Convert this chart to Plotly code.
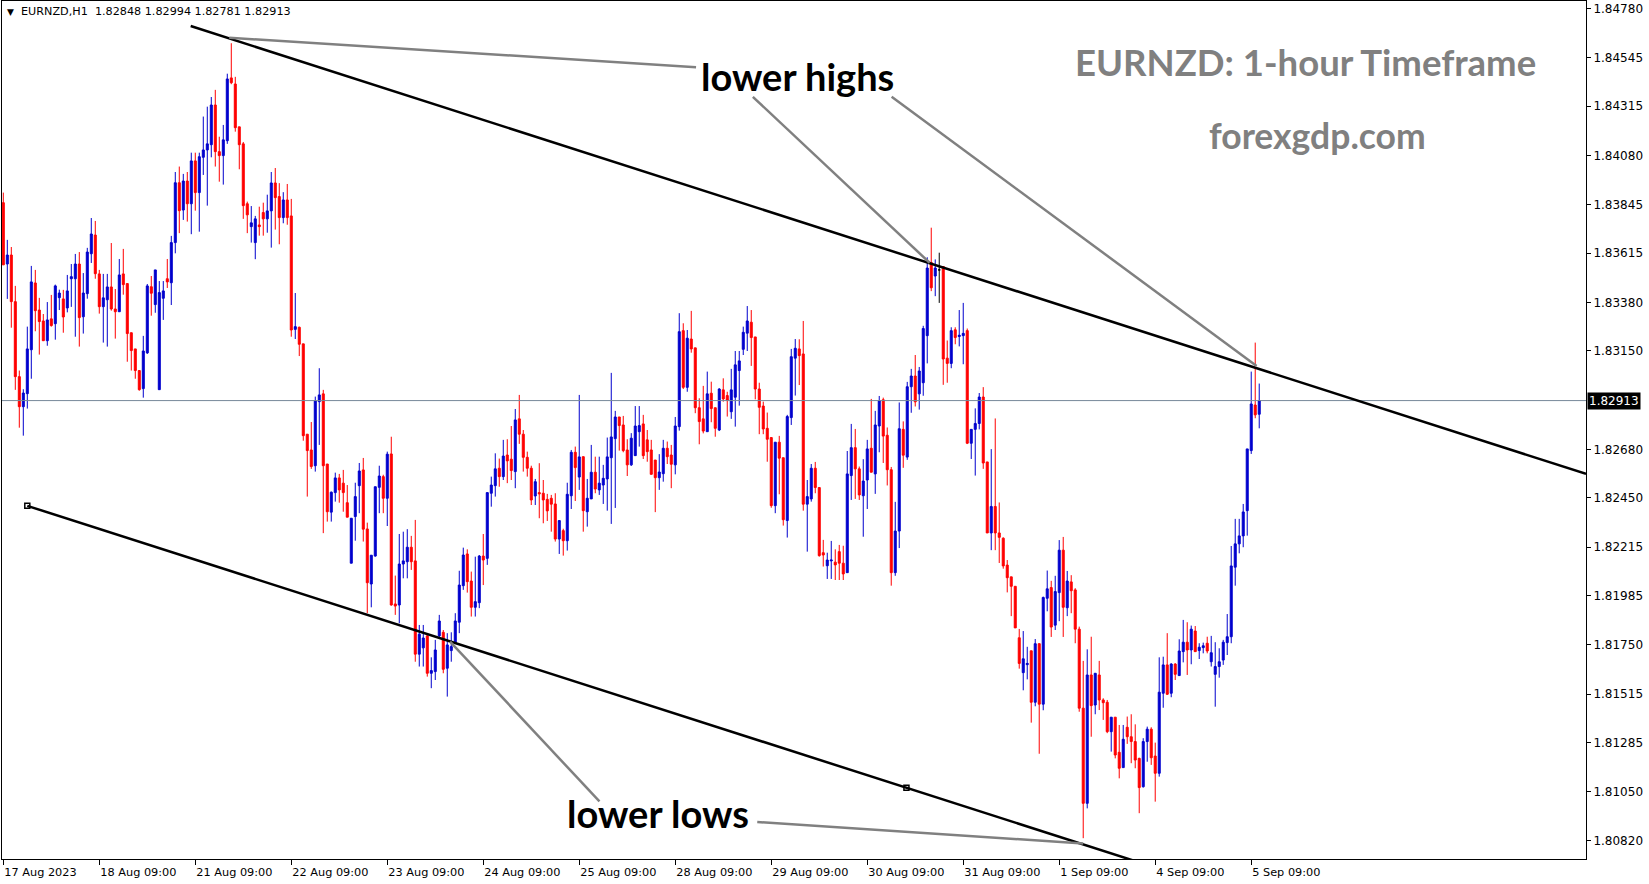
import plotly.graph_objects as go

symbol = "EURNZD,H1"
BULL = "#0000CD"
BEAR = "#FF0000"

# OHLC of each hourly bar (bar index 0 = 17 Aug 2023 09:00)
opens = [1.83855,1.83563,1.83606,1.83384,1.83027,1.82884,1.82946,1.83155,1.83473,1.83344,
1.83292,1.83198,1.83302,1.83279,1.83403,1.83397,1.83354,1.83493,1.83493,1.83563,
1.83312,1.83422,1.83612,1.83701,1.83516,1.83360,1.83393,1.83454,1.83349,1.83336,
1.83516,1.83470,1.83236,1.83159,1.83056,1.82970,1.83140,1.83455,1.83370,1.82965,
1.83400,1.83493,1.83474,1.83665,1.83950,1.83820,1.83958,1.83850,1.84054,1.83903,
1.84071,1.84106,1.84131,1.84320,1.84098,1.84079,1.84150,1.84449,1.84420,1.84216,
1.84135,1.83850,1.83741,1.83665,1.83749,1.83808,1.83778,1.83816,1.83949,1.83884,
1.83784,1.83868,1.83792,1.83252,1.83262,1.83183,1.82753,1.82678,1.82603,1.82908,
1.82945,1.82611,1.82382,1.82475,1.82545,1.82520,1.82427,1.82139,1.82361,1.82508,
1.82583,1.82302,1.82040,1.82173,1.82500,1.82551,1.82448,1.82659,1.81945,1.81940,
1.82135,1.82146,1.82215,1.82150,1.81706,1.81736,1.81793,1.81615,1.81623,1.81793,
1.81810,1.81639,1.81723,1.81758,1.81858,1.82032,1.82183,1.82054,1.81929,1.81951,
1.82173,1.82162,1.82472,1.82508,1.82591,1.82551,1.82654,1.82634,1.82575,1.82826,
1.82753,1.82643,1.82591,1.82459,1.82475,1.82472,1.82443,1.82448,1.82421,1.82254,
1.82294,1.82246,1.82460,1.82667,1.82549,1.82646,1.82384,1.82445,1.82572,1.82488,
1.82511,1.82540,1.82641,1.82732,1.82835,1.82797,1.82678,1.82607,1.82651,1.82765,
1.82802,1.82726,1.82678,1.82630,1.82546,1.82565,1.82686,1.82654,1.82607,1.82789,
1.83246,1.82976,1.83206,1.83164,1.82879,1.82826,1.82765,1.82948,1.82879,1.82773,
1.82964,1.82937,1.82860,1.82929,1.83056,1.83157,1.83234,1.83286,1.83216,1.82968,
1.82887,1.82781,1.82737,1.82413,1.82715,1.82641,1.82342,1.82832,1.83115,1.83159,
1.83135,1.82420,1.82445,1.82591,1.82499,1.82189,1.82127,1.82150,1.82144,1.82194,
1.82139,1.82094,1.82556,1.82689,1.82588,1.82460,1.82535,1.82686,1.82564,1.82792,
1.82917,1.82748,1.82584,1.82094,1.82292,1.82776,1.82644,1.82979,1.83030,1.82945,
1.82998,1.83222,1.83570,1.83506,1.83535,1.83551,1.83115,1.83090,1.83250,1.83218,
1.83222,1.83246,1.82710,1.82776,1.82804,1.82930,1.82621,1.82283,1.82409,1.82283,
1.82258,1.82130,1.82074,1.82029,1.81784,1.81618,1.81656,1.81722,1.81477,1.81756,
1.81468,1.81972,1.82023,1.81844,1.81999,1.82201,1.81927,1.82050,1.82012,1.81825,
1.81449,1.80996,1.81607,1.81464,1.81607,1.81488,1.81477,1.81337,1.81406,1.81239,
1.81166,1.81358,1.81313,1.81290,1.81210,1.81075,1.81290,1.81349,1.81221,1.81139,
1.81520,1.81655,1.81520,1.81659,1.81604,1.81718,1.81763,1.81726,1.81816,1.81723,
1.81737,1.81758,1.81670,1.81610,1.81647,1.81678,1.81761,1.81789,1.82120,1.82231,
1.82269,1.82389,1.82675,1.82892,1.82848]
highs = [1.83903,1.83678,1.83644,1.83459,1.83056,1.82967,1.83265,1.83554,1.83535,1.83402,
1.83325,1.83382,1.83416,1.83465,1.83441,1.83440,1.83511,1.83563,1.83611,1.83620,
1.83520,1.83640,1.83782,1.83768,1.83535,1.83516,1.83516,1.83663,1.83444,1.83587,
1.83635,1.83470,1.83236,1.83159,1.83056,1.83221,1.83468,1.83506,1.83535,1.83482,
1.83482,1.83587,1.83697,1.84001,1.84027,1.83992,1.84001,1.84093,1.84093,1.84093,
1.84265,1.84312,1.84358,1.84392,1.84169,1.84225,1.84469,1.84614,1.84454,1.84216,
1.84144,1.83860,1.83839,1.83792,1.83836,1.83855,1.83893,1.84001,1.84020,1.83948,
1.83905,1.83944,1.83873,1.83425,1.83265,1.83183,1.82753,1.82811,1.82932,1.83067,
1.82964,1.82611,1.82480,1.82570,1.82564,1.82583,1.82511,1.82353,1.82522,1.82616,
1.82640,1.82332,1.82177,1.82503,1.82603,1.82560,1.82670,1.82741,1.82080,1.82278,
1.82289,1.82301,1.82269,1.82345,1.81845,1.81845,1.81806,1.81691,1.81774,1.81893,
1.81821,1.81806,1.81810,1.81901,1.82103,1.82213,1.82205,1.82099,1.82170,1.82178,
1.82278,1.82475,1.82551,1.82662,1.82637,1.82726,1.82729,1.82792,1.82873,1.82940,
1.82773,1.82670,1.82603,1.82540,1.82615,1.82535,1.82469,1.82464,1.82472,1.82342,
1.82303,1.82522,1.82678,1.82694,1.82940,1.82646,1.82540,1.82702,1.82646,1.82646,
1.82607,1.82737,1.83045,1.82864,1.82835,1.82840,1.82729,1.82758,1.82887,1.82887,
1.82845,1.82773,1.82726,1.82630,1.82658,1.82726,1.82718,1.82702,1.82835,1.83329,
1.83281,1.83249,1.83340,1.83164,1.82924,1.82983,1.83051,1.83003,1.82879,1.82972,
1.83019,1.82955,1.83064,1.83149,1.83149,1.83265,1.83363,1.83344,1.83216,1.82998,
1.82908,1.82856,1.82737,1.82715,1.82745,1.82641,1.82845,1.83159,1.83206,1.83205,
1.83292,1.82535,1.82611,1.82621,1.82499,1.82250,1.82189,1.82245,1.82205,1.82226,
1.82222,1.82673,1.82802,1.82778,1.82599,1.82634,1.82726,1.82921,1.82864,1.82935,
1.82927,1.82785,1.82597,1.82431,1.82904,1.82814,1.83002,1.83064,1.83130,1.83073,
1.83269,1.83595,1.83736,1.83585,1.83617,1.83551,1.83199,1.83262,1.83262,1.83344,
1.83378,1.83256,1.82776,1.82876,1.82949,1.82977,1.82621,1.82682,1.82828,1.82428,
1.82262,1.82154,1.82074,1.82029,1.81826,1.81816,1.81741,1.81722,1.81778,1.81756,
1.81980,1.82104,1.82055,1.82079,1.82249,1.82264,1.82102,1.82082,1.82020,1.81837,
1.81674,1.81729,1.81789,1.81615,1.81674,1.81496,1.81488,1.81406,1.81406,1.81369,
1.81369,1.81409,1.81420,1.81372,1.81213,1.81306,1.81361,1.81358,1.81285,1.81691,
1.81694,1.81806,1.81663,1.81663,1.81777,1.81869,1.81858,1.81842,1.81840,1.81758,
1.81761,1.81789,1.81793,1.81763,1.81734,1.81774,1.81897,1.82221,1.82350,1.82350,
1.82421,1.82683,1.83051,1.83189,1.82994]
lows = [1.83559,1.83397,1.83260,1.82964,1.82784,1.82746,1.82875,1.83017,1.83243,1.83132,
1.83198,1.83174,1.83265,1.83203,1.83344,1.83236,1.83333,1.83359,1.83217,1.83170,
1.83232,1.83398,1.83568,1.83493,1.83327,1.83189,1.83170,1.83341,1.83208,1.83335,
1.83417,1.83098,1.83056,1.83017,1.82960,1.82927,1.83135,1.83317,1.83331,1.82965,
1.83297,1.83449,1.83368,1.83614,1.83710,1.83773,1.83765,1.83705,1.83817,1.83717,
1.83987,1.83841,1.84071,1.84027,1.83955,1.83941,1.84135,1.84419,1.84193,1.84014,
1.83778,1.83710,1.83665,1.83586,1.83698,1.83698,1.83712,1.83641,1.83727,1.83657,
1.83757,1.83750,1.83217,1.83206,1.83125,1.82722,1.82456,1.82588,1.82575,1.82702,
1.82282,1.82337,1.82337,1.82432,1.82427,1.82384,1.82358,1.82139,1.82246,1.82377,
1.82242,1.81901,1.81929,1.82170,1.82377,1.82377,1.82316,1.81937,1.81893,1.81853,
1.82067,1.82067,1.82107,1.81670,1.81647,1.81647,1.81599,1.81544,1.81583,1.81782,
1.81615,1.81504,1.81670,1.81758,1.81806,1.82012,1.81999,1.81885,1.81885,1.81925,
1.82035,1.82131,1.82408,1.82456,1.82503,1.82535,1.82520,1.82535,1.82496,1.82707,
1.82575,1.82551,1.82416,1.82416,1.82353,1.82329,1.82340,1.82289,1.82242,1.82183,
1.82175,1.82199,1.82397,1.82435,1.82488,1.82289,1.82313,1.82445,1.82472,1.82464,
1.82421,1.82389,1.82326,1.82402,1.82675,1.82667,1.82554,1.82602,1.82651,1.82694,
1.82635,1.82622,1.82562,1.82382,1.82488,1.82527,1.82611,1.82496,1.82562,1.82770,
1.82968,1.82955,1.83141,1.82853,1.82705,1.82757,1.82765,1.82810,1.82741,1.82768,
1.82908,1.82837,1.82826,1.82789,1.82889,1.83130,1.83149,1.83078,1.82919,1.82753,
1.82753,1.82622,1.82403,1.82377,1.82467,1.82318,1.82261,1.82797,1.82937,1.82987,
1.82389,1.82194,1.82432,1.82472,1.82170,1.82123,1.82064,1.82064,1.82059,1.82059,
1.82059,1.82094,1.82440,1.82445,1.82440,1.82265,1.82397,1.82572,1.82469,1.82667,
1.82616,1.82509,1.82032,1.82079,1.82211,1.82593,1.82631,1.82855,1.82885,1.82870,
1.82936,1.83090,1.83434,1.83410,1.83378,1.82988,1.82998,1.83067,1.83181,1.83171,
1.83086,1.82706,1.82635,1.82556,1.82776,1.82588,1.82283,1.82201,1.82201,1.82140,
1.82113,1.82000,1.81887,1.81831,1.81637,1.81534,1.81586,1.81380,1.81458,1.81232,
1.81439,1.81910,1.81788,1.81821,1.81863,1.81788,1.81887,1.81901,1.81758,1.81432,
1.80830,1.80972,1.81313,1.81420,1.81440,1.81393,1.81330,1.81242,1.81210,1.81115,
1.81166,1.81279,1.81187,1.81163,1.80949,1.81071,1.81194,1.81179,1.81004,1.81123,
1.81451,1.81512,1.81501,1.81583,1.81604,1.81667,1.81607,1.81658,1.81718,1.81683,
1.81710,1.81710,1.81647,1.81456,1.81594,1.81655,1.81702,1.81758,1.82032,1.82186,
1.82215,1.82270,1.82659,1.82829,1.82781]
closes = [1.83559,1.83606,1.83384,1.83027,1.82884,1.82949,1.83159,1.83478,1.83341,1.83289,
1.83198,1.83297,1.83270,1.83459,1.83425,1.83311,1.83435,1.83503,1.83563,1.83308,
1.83425,1.83620,1.83706,1.83517,1.83360,1.83402,1.83454,1.83349,1.83336,1.83511,
1.83465,1.83232,1.83151,1.83056,1.82965,1.83149,1.83459,1.83424,1.83535,1.83427,
1.83435,1.83478,1.83665,1.83950,1.83817,1.83958,1.83850,1.84054,1.83903,1.84074,
1.84106,1.84135,1.84320,1.84098,1.84079,1.84154,1.84444,1.84426,1.84212,1.84131,
1.83841,1.83797,1.83759,1.83778,1.83741,1.83778,1.83816,1.83949,1.83879,1.83784,
1.83868,1.83784,1.83249,1.83265,1.83181,1.82746,1.82675,1.82599,1.82911,1.82940,
1.82603,1.82384,1.82477,1.82545,1.82488,1.82475,1.82358,1.82353,1.82456,1.82578,
1.82301,1.82046,1.82177,1.82503,1.82554,1.82448,1.82658,1.81940,1.81935,1.82135,
1.82150,1.82215,1.82146,1.81706,1.81801,1.81783,1.81615,1.81628,1.81726,1.81864,
1.81634,1.81750,1.81742,1.81864,1.82035,1.82178,1.82051,1.81929,1.81956,1.82173,
1.82154,1.82475,1.82511,1.82588,1.82551,1.82649,1.82626,1.82580,1.82821,1.82753,
1.82643,1.82591,1.82440,1.82527,1.82469,1.82440,1.82388,1.82420,1.82254,1.82342,
1.82246,1.82467,1.82667,1.82594,1.82645,1.82389,1.82448,1.82572,1.82492,1.82520,
1.82543,1.82645,1.82740,1.82835,1.82794,1.82675,1.82607,1.82734,1.82792,1.82794,
1.82651,1.82670,1.82562,1.82546,1.82573,1.82686,1.82646,1.82610,1.82792,1.83241,
1.82976,1.83210,1.83159,1.82879,1.82813,1.82768,1.82945,1.82875,1.82781,1.82968,
1.82921,1.82913,1.82964,1.83083,1.83102,1.83238,1.83292,1.83213,1.82968,1.82881,
1.82778,1.82729,1.82413,1.82715,1.82639,1.82346,1.82837,1.83122,1.83162,1.83127,
1.82420,1.82456,1.82591,1.82499,1.82175,1.82178,1.82154,1.82154,1.82131,1.82139,
1.82088,1.82564,1.82689,1.82588,1.82464,1.82530,1.82683,1.82572,1.82797,1.82913,
1.82744,1.82584,1.82094,1.82292,1.82779,1.82653,1.82979,1.83030,1.82907,1.83054,
1.83256,1.83544,1.83450,1.83544,1.83535,1.83111,1.83090,1.83246,1.83213,1.83224,
1.83233,1.82710,1.82776,1.82804,1.82930,1.82616,1.82283,1.82409,1.82283,1.82262,
1.82126,1.82070,1.82029,1.81831,1.81662,1.81684,1.81662,1.81477,1.81756,1.81468,
1.81976,1.82017,1.81835,1.82004,1.82201,1.81929,1.82054,1.82008,1.81825,1.81449,
1.80996,1.81607,1.81461,1.81615,1.81488,1.81475,1.81337,1.81406,1.81226,1.81163,
1.81301,1.81313,1.81290,1.81202,1.81071,1.81290,1.81349,1.81213,1.81139,1.81525,
1.81655,1.81515,1.81659,1.81610,1.81721,1.81763,1.81726,1.81825,1.81718,1.81739,
1.81746,1.81721,1.81713,1.81647,1.81670,1.81763,1.81789,1.82126,1.82231,1.82269,
1.82383,1.82683,1.82897,1.82845,1.82913]

# time axis labels (one every 24 hourly bars)
tick_bars = [0, 24, 48, 72, 96, 120, 144, 168, 192, 216, 240, 264, 288, 312]
tick_labels = ["17 Aug 2023", "18 Aug 09:00", "21 Aug 09:00", "22 Aug 09:00", "23 Aug 09:00",
               "24 Aug 09:00", "25 Aug 09:00", "28 Aug 09:00", "29 Aug 09:00", "30 Aug 09:00",
               "31 Aug 09:00", "1 Sep 09:00", "4 Sep 09:00", "5 Sep 09:00"]
price_ticks = [1.84780, 1.84545, 1.84315, 1.84080, 1.83845, 1.83615, 1.83380, 1.83150,
               1.82680, 1.82450, 1.82215, 1.81985, 1.81750, 1.81515, 1.81285, 1.81050, 1.80820]

# drawn objects (bar index, price)
upper_channel_x = [46.85, 395.7]
upper_channel_y = [1.84696, 1.82564]
lower_channel_x = [6.0, 283.0]
lower_channel_y = [1.82412, 1.80721]
lower_anchor_x = [6.0, 225.8]
lower_anchor_y = [1.82412, 1.81070]
pointer_lines = [
    ((56.5, 1.84640), (173.2, 1.84500)),
    ((187.4, 1.84359), (231.6, 1.83569)),
    ((222.1, 1.84359), (313.35, 1.83078)),
    ((111.7, 1.81766), (149.05, 1.81005)),
    ((188.5, 1.80907), (270.0, 1.80805)),
]

X_RANGE = [-0.325, 395.7]
Y_RANGE = [1.80731, 1.84815]

n = len(closes)
idx = list(range(n))
doji = [i for i in idx if opens[i] == closes[i]]
normal = [i for i in idx if opens[i] != closes[i]]

fig = go.Figure()
fig.add_trace(go.Candlestick(
    x=normal,
    open=[opens[i] for i in normal], high=[highs[i] for i in normal],
    low=[lows[i] for i in normal], close=[closes[i] for i in normal],
    increasing=dict(line=dict(color=BULL, width=1), fillcolor=BULL),
    decreasing=dict(line=dict(color=BEAR, width=1), fillcolor=BEAR),
    whiskerwidth=0, showlegend=False, hoverinfo="skip"))
fig.add_trace(go.Candlestick(
    x=doji,
    open=[opens[i] for i in doji], high=[highs[i] for i in doji],
    low=[lows[i] for i in doji], close=[closes[i] for i in doji],
    increasing=dict(line=dict(color="black", width=1), fillcolor="black"),
    decreasing=dict(line=dict(color="black", width=1), fillcolor="black"),
    whiskerwidth=0, showlegend=False, hoverinfo="skip"))

shapes = []
# last price line
shapes.append(dict(type="line", xref="paper", x0=0, x1=1, yref="y", y0=closes[-1], y1=closes[-1],
                   line=dict(color="#778899", width=1)))
shapes.append(dict(type="line", xref="x", yref="y", x0=upper_channel_x[0], x1=upper_channel_x[1],
                   y0=upper_channel_y[0], y1=upper_channel_y[1], line=dict(color="black", width=2.5)))
shapes.append(dict(type="line", xref="x", yref="y", x0=lower_channel_x[0], x1=lower_channel_x[1],
                   y0=lower_channel_y[0], y1=lower_channel_y[1], line=dict(color="black", width=2.5)))
for (xa, ya), (xb, yb) in pointer_lines:
    shapes.append(dict(type="line", xref="x", yref="y", x0=xa, y0=ya, x1=xb, y1=yb,
                       line=dict(color="#808080", width=2.5)))

fig.add_trace(go.Scatter(x=lower_anchor_x, y=lower_anchor_y, mode="markers",
                         marker=dict(symbol="square", size=5, color="white",
                                     line=dict(color="black", width=1.5)),
                         showlegend=False, hoverinfo="skip"))

AX_FONT = dict(family="DejaVu Sans", size=12, color="black")
X_FONT = dict(family="DejaVu Sans", size=11.3, color="black")

annotations = [
    dict(xref="paper", yref="y", x=1, y=closes[-1], xanchor="left", yanchor="middle",
         text=f"{closes[-1]:.5f}", showarrow=False, bgcolor="black", xshift=1,
         font=dict(family="DejaVu Sans", size=12, color="white"), borderpad=1),
    dict(xref="paper", yref="paper", x=0.0019, y=0.9872, xanchor="left", yanchor="middle",
         text=f"<span style='font-size:9px'>▼</span>  {symbol}  {opens[-1]:.5f} {highs[-1]:.5f} {lows[-1]:.5f} {closes[-1]:.5f}",
         showarrow=False, font=dict(family="DejaVu Sans", size=11.2, color="black")),
    dict(xref="paper", yref="paper", x=0.5025, y=0.9125, xanchor="center", yanchor="middle",
         text="<b>lower highs</b>", showarrow=False,
         font=dict(family="Lato", size=38, color="black")),
    dict(xref="paper", yref="paper", x=0.4144, y=0.0535, xanchor="center", yanchor="middle",
         text="<b>lower lows</b>", showarrow=False,
         font=dict(family="Lato", size=38, color="black")),
    dict(xref="paper", yref="paper", x=0.8232, y=0.9291, xanchor="center", yanchor="middle",
         text="<b>EURNZD: 1-hour Timeframe</b>", showarrow=False,
         font=dict(family="Lato", size=36.5, color="#808080")),
    dict(xref="paper", yref="paper", x=0.8308, y=0.8431, xanchor="center", yanchor="middle",
         text="<b>forexgdp.com</b>", showarrow=False,
         font=dict(family="Lato", size=35.5, color="#808080")),
]

fig.update_layout(
    width=1649, height=884, autosize=False,
    margin=dict(l=2, r=63, t=1, b=25, pad=0),
    paper_bgcolor="white", plot_bgcolor="white",
    boxgap=0.5, boxgroupgap=0,
    shapes=shapes, annotations=annotations,
    showlegend=False,
    xaxis=dict(range=X_RANGE, tickmode="array", tickvals=tick_bars, ticktext=tick_labels,
               ticks="outside", ticklen=5, tickcolor="black", tickwidth=1,
               ticklabelposition="outside right", ticklabelstandoff=2, tickfont=X_FONT,
               showgrid=False, zeroline=False, showline=True, linecolor="black",
               linewidth=1, mirror=True, rangeslider=dict(visible=False), fixedrange=True),
    yaxis=dict(range=Y_RANGE, side="right", tickmode="array", tickvals=price_ticks,
               ticktext=[f"{v:.5f}" for v in price_ticks],
               ticks="outside", ticklen=4, tickcolor="black", tickwidth=1, tickfont=AX_FONT,
               showgrid=False, zeroline=False, showline=True, linecolor="black",
               linewidth=1, mirror=True, fixedrange=True),
)

fig.write_html("out.html", config={"displayModeBar": False},
               post_script="document.body.style.margin='0';")
